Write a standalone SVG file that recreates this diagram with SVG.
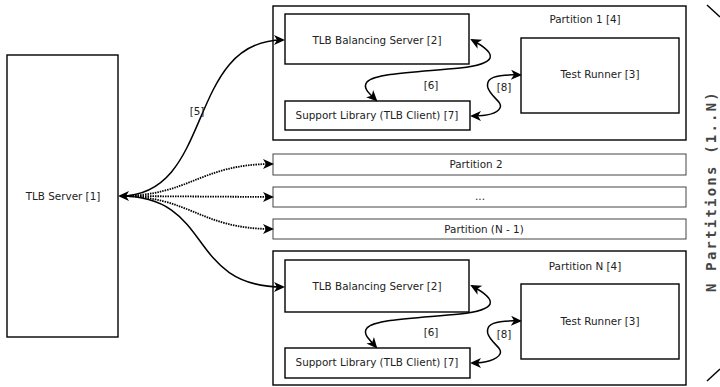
<svg xmlns="http://www.w3.org/2000/svg" width="720" height="387" viewBox="0 0 720 387">
  <style>
    .box { fill: #fff; stroke: #000; stroke-width: 1.4; }
    .thin { fill: #fff; stroke: #444; stroke-width: 1; }
    .lbl { font-family: "DejaVu Sans", sans-serif; font-size: 10.4px; fill: #222; text-anchor: middle; }
    .wire { fill: none; stroke: #000; stroke-width: 1.5; }
    .dot { fill: none; stroke: #000; stroke-width: 1.8; stroke-dasharray: 1.5 1; }
    .side { font-family: "DejaVu Sans Mono", monospace; font-size: 14px; font-weight: bold; fill: #444; text-anchor: middle; letter-spacing: 2.2px; }
  </style>
  <defs>
    <marker id="arrow" viewBox="-10 -6 14 12" markerWidth="14" markerHeight="12" refX="0" refY="0" orient="auto-start-reverse" markerUnits="userSpaceOnUse">
      <path d="M 2,0 L -9,-5 L -6,0 L -9,5 Z" fill="#000"/>
    </marker>
  </defs>

  <rect width="720" height="387" fill="#fff"/>

  <g id="tlb-server">
    <rect class="box" x="7" y="55" width="111" height="282"/>
    <text class="lbl" x="63" y="200">TLB Server [1]</text>
  </g>

  <g id="partition-1">
    <rect class="box" x="273" y="6" width="413" height="134"/>
    <text class="lbl" x="585" y="23">Partition 1 [4]</text>
    <g id="balancer-1">
      <rect class="box" x="285" y="14" width="184" height="50"/>
      <text class="lbl" x="377" y="44">TLB Balancing Server [2]</text>
    </g>
    <g id="runner-1">
      <rect class="box" x="521" y="38" width="158" height="75"/>
      <text class="lbl" x="600" y="78">Test Runner [3]</text>
    </g>
    <g id="client-1">
      <rect class="box" x="285" y="101" width="185" height="29"/>
      <text class="lbl" x="377" y="119">Support Library (TLB Client) [7]</text>
    </g>
    <text class="lbl" x="431" y="89">[6]</text>
    <text class="lbl" x="504" y="91">[8]</text>
  </g>

  <g id="partition-2">
    <rect class="thin" x="273" y="154" width="413" height="21"/>
    <text class="lbl" x="476" y="168">Partition 2</text>
  </g>
  <g id="partition-more">
    <rect class="thin" x="273" y="187" width="413" height="20"/>
    <text class="lbl" x="480" y="200">...</text>
  </g>
  <g id="partition-n-1">
    <rect class="thin" x="273" y="219" width="413" height="20"/>
    <text class="lbl" x="484" y="233">Partition (N - 1)</text>
  </g>

  <g id="partition-n">
    <rect class="box" x="273" y="251" width="413" height="134"/>
    <text class="lbl" x="585" y="270">Partition N [4]</text>
    <g id="balancer-n">
      <rect class="box" x="285" y="260" width="184" height="52"/>
      <text class="lbl" x="377" y="290">TLB Balancing Server [2]</text>
    </g>
    <g id="runner-n">
      <rect class="box" x="521" y="284" width="158" height="75"/>
      <text class="lbl" x="600" y="325">Test Runner [3]</text>
    </g>
    <g id="client-n">
      <rect class="box" x="285" y="348" width="185" height="30"/>
      <text class="lbl" x="377" y="366">Support Library (TLB Client) [7]</text>
    </g>
    <text class="lbl" x="431" y="336">[6]</text>
    <text class="lbl" x="504" y="338">[8]</text>
  </g>

  <g id="connectors">
    <path class="wire" d="M 120,196 C 215,196 185,40 283,40" marker-start="url(#arrow)" marker-end="url(#arrow)"/>
    <text class="lbl" x="197" y="115">[5]</text>
    <path class="wire" d="M 120,196 C 215,196 185,287 283,287" marker-end="url(#arrow)"/>
    <path class="dot" d="M 120,196 C 190,196 200,164 272,164" marker-end="url(#arrow)"/>
    <path class="dot" d="M 120,196 L 272,197" marker-end="url(#arrow)"/>
    <path class="dot" d="M 120,196 C 190,196 200,229 272,229" marker-end="url(#arrow)"/>

    <g id="links-1">
      <path class="wire" d="M 472,40 C 500,55 496,64 460,68 C 420,72 375,73 367,82 C 362,88 370,94 376,100" marker-start="url(#arrow)" marker-end="url(#arrow)"/>
      <path class="wire" d="M 520,75 C 495,74 485,78 488,88 C 491,97 503,102 500,108 C 497,114 485,116 472,116" marker-start="url(#arrow)" marker-end="url(#arrow)"/>
    </g>
    <g id="links-n" transform="translate(0,246)">
      <path class="wire" d="M 472,40 C 500,55 496,64 460,68 C 420,72 375,73 367,82 C 362,88 370,94 376,101" marker-start="url(#arrow)" marker-end="url(#arrow)"/>
      <path class="wire" d="M 520,75 C 495,74 485,78 488,88 C 491,97 503,102 500,108 C 497,114 485,117 472,117" marker-start="url(#arrow)" marker-end="url(#arrow)"/>
    </g>
  </g>

  <g id="partition-range">
    <line x1="707" y1="5" x2="720" y2="17" stroke="#000" stroke-width="1.4"/>
    <line x1="707" y1="381" x2="720" y2="369" stroke="#000" stroke-width="1.4"/>
    <text class="side" transform="translate(716,191) rotate(-90)">N Partitions (1..N)</text>
  </g>
</svg>
